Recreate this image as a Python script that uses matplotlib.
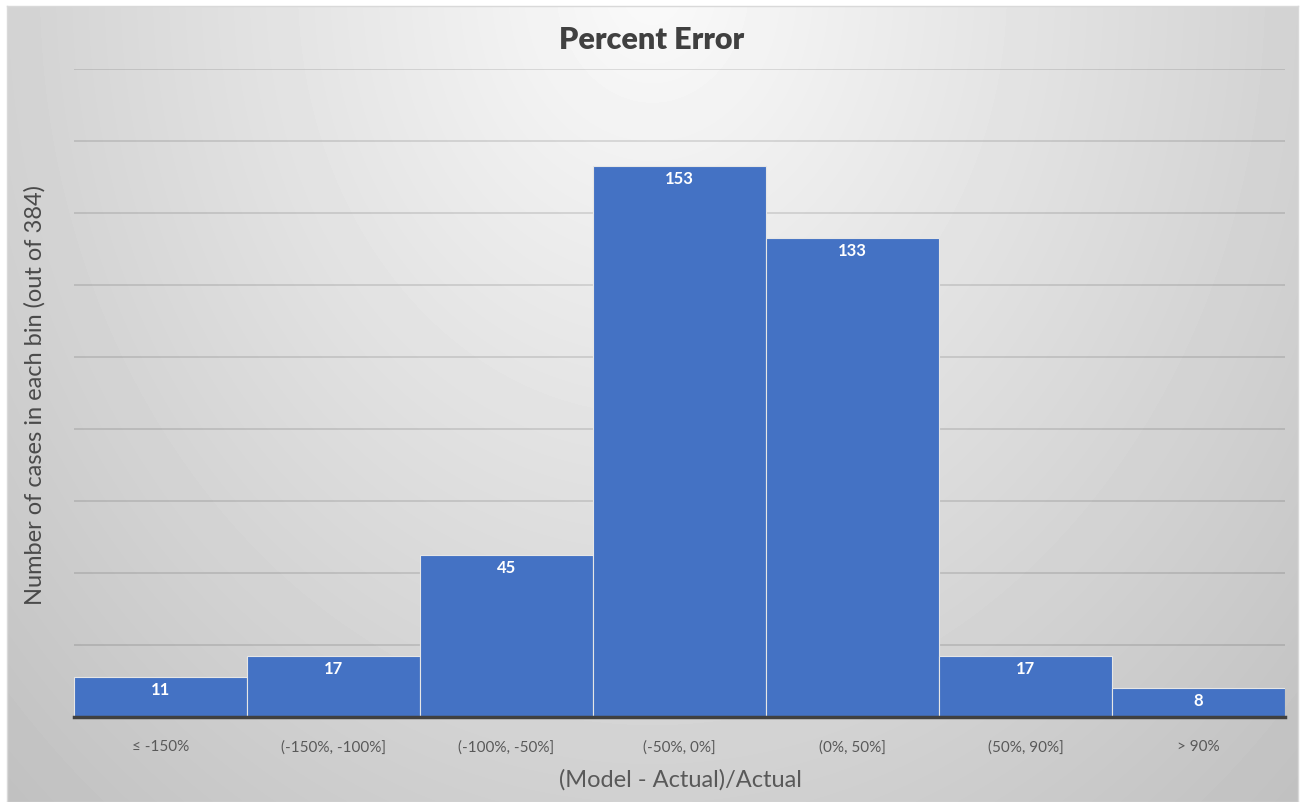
import numpy as np
import matplotlib.pyplot as plt

# Histogram of percent error bins
bins = ['≤ -150%', '(-150%, -100%]', '(-100%, -50%]', '(-50%, 0%]',
        '(0%, 50%]', '(50%, 90%]', '> 90%']
counts = [11, 17, 45, 153, 133, 17, 8]

W, H = 1300, 803
fig = plt.figure(figsize=(W / 100, H / 100), dpi=100, facecolor='white')

# grey radial background of the chart area
bg = fig.add_axes([7 / W, 0, (W - 9) / W, (H - 7) / H])
yy, xx = np.mgrid[0:H - 7, 0:W - 9]
d = np.sqrt(((xx - 645) / 680.0) ** 2 + ((yy + 20) / 820.0) ** 2)
shade = np.clip(250 - 42 * d, 190, 250) / 255.0
bg.imshow(shade, cmap='gray', vmin=0, vmax=1, aspect='auto',
          interpolation='bilinear')
for s in bg.spines.values():
    s.set_color('#d9d9d9')
    s.set_linewidth(1)
bg.set_xticks([])
bg.set_yticks([])

ax = fig.add_axes([74 / W, (H - 718) / H, (1285 - 74) / W, (718 - 70) / H])
ax.patch.set_alpha(0)

x = np.arange(len(bins))
bars = ax.bar(x, counts, width=1.0, color='#4472c4', edgecolor='#e6e6e6',
              linewidth=0.8, zorder=3)
ax.set_xlim(-0.5, len(bins) - 0.5)
ax.set_ylim(0, 180)
ax.set_yticks(np.arange(0, 181, 20))
ax.yaxis.grid(True, color='black', alpha=0.13, linewidth=1.2, zorder=0)
ax.tick_params(axis='y', length=0, labelleft=False)
ax.tick_params(axis='x', length=0, pad=16, labelsize=11, labelcolor='#595959')
ax.set_xticks(x)
ax.set_xticklabels(bins, fontfamily='Lato')
for side in ['top', 'right', 'left']:
    ax.spines[side].set_visible(False)
ax.spines['bottom'].set_color('#404040')
ax.spines['bottom'].set_linewidth(2.5)
ax.spines['bottom'].set_zorder(4)

for xi, c in zip(x, counts):
    ax.annotate(str(c), (xi, c), xytext=(0, -8.5), textcoords='offset points',
                ha='center', va='center', color='white', fontsize=12,
                fontweight='bold', fontfamily='Lato', zorder=5)

fig.text(652 / W, 1 - 40 / H, 'Percent Error', ha='center', va='center',
         fontsize=22, fontweight='heavy', color='#404040', fontfamily='Lato')
fig.text(680 / W, 1 - 780 / H, '(Model - Actual)/Actual', ha='center',
         va='center', fontsize=17, color='#595959', fontfamily='Lato')
fig.text(35 / W, 1 - 395 / H, 'Number of cases in each bin (out of 384)',
         ha='center', va='center', rotation=90, fontsize=17, color='#4a4a4a',
         fontfamily='Lato')

fig.savefig('out.png', dpi=100, facecolor='white')
